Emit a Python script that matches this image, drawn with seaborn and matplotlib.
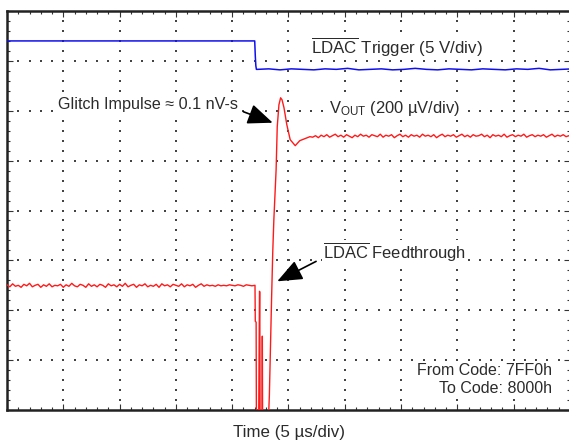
import numpy as np
import seaborn as sns
import matplotlib
matplotlib.use("Agg")
import matplotlib.pyplot as plt
from matplotlib.ticker import MultipleLocator

# screen units: x in divisions (5 us/div), y in divisions from bottom of the screen
blue_x = [0.0, 4.40, 4.41, 4.42, 4.43]
blue_y = [7.40, 7.40, 7.10, 6.90, 6.83]
blue_low_x = np.linspace(4.45, 10.05, 29)
blue_low_y = [6.83, 6.84, 6.82, 6.84, 6.83, 6.82, 6.84, 6.83, 6.85, 6.82,
              6.83, 6.84, 6.82, 6.83, 6.85, 6.83, 6.82, 6.84, 6.83, 6.82,
              6.84, 6.83, 6.82, 6.84, 6.83, 6.85, 6.82, 6.83, 6.84]

# red trace before the update (sampled every 0.05 div)
red_pre_x = np.linspace(0.0, 4.40, 89)
red_pre_y = [2.51, 2.47, 2.53, 2.48, 2.50, 2.46, 2.52, 2.49, 2.54, 2.47,
             2.50, 2.52, 2.46, 2.51, 2.48, 2.53, 2.47, 2.50, 2.49, 2.52,
             2.46, 2.51, 2.48, 2.54, 2.49, 2.47, 2.52, 2.50, 2.46, 2.53,
             2.48, 2.51, 2.47, 2.52, 2.50, 2.46, 2.53, 2.49, 2.51, 2.47,
             2.52, 2.48, 2.54, 2.47, 2.50, 2.52, 2.46, 2.51, 2.49, 2.53,
             2.47, 2.50, 2.48, 2.52, 2.46, 2.53, 2.49, 2.51, 2.47, 2.52,
             2.50, 2.48, 2.53, 2.47, 2.51, 2.49, 2.52, 2.46, 2.50, 2.53,
             2.48, 2.51, 2.49, 2.50, 2.48, 2.51, 2.49, 2.50, 2.49, 2.51,
             2.50, 2.49, 2.51, 2.50, 2.48, 2.51, 2.50, 2.49, 2.50]

# feedthrough + glitch around the LDAC edge
red_glitch_x = [4.405, 4.41, 4.425, 4.43, 4.47, 4.485, 4.49, 4.495,
                4.53, 4.535, 4.54, 4.64, 4.66, 4.68, 4.70, 4.72,
                4.74, 4.78, 4.79, 4.80, 4.83, 4.86, 4.885, 4.92, 4.97, 5.03,
                5.12, 5.20, 5.29, 5.38]
red_glitch_y = [2.50, 1.78, 1.76, -0.3, -0.3, 2.38, 2.36, -0.3,
                -0.3, 1.48, -0.3, -0.3, 0.29, 1.28, 2.26, 3.16,
                3.82, 4.82, 5.28, 5.68, 6.12, 6.26, 6.22, 6.06, 5.72, 5.42,
                5.30, 5.40, 5.44, 5.48]

# settled output after the update
red_post_x = np.linspace(5.43, 10.08, 94)
red_post_y = [5.47, 5.50, 5.46, 5.51, 5.48, 5.52, 5.47, 5.50, 5.53, 5.48,
              5.51, 5.47, 5.52, 5.49, 5.46, 5.51, 5.48, 5.53, 5.49, 5.51,
              5.47, 5.52, 5.50, 5.48, 5.53, 5.47, 5.51, 5.49, 5.52, 5.46,
              5.50, 5.53, 5.48, 5.51, 5.47, 5.52, 5.49, 5.51, 5.47, 5.53,
              5.49, 5.51, 5.48, 5.52, 5.46, 5.50, 5.53, 5.48, 5.51, 5.49,
              5.52, 5.47, 5.50, 5.53, 5.48, 5.51, 5.47, 5.52, 5.49, 5.50,
              5.53, 5.48, 5.51, 5.46, 5.52, 5.49, 5.51, 5.48, 5.53, 5.47,
              5.50, 5.52, 5.48, 5.51, 5.49, 5.53, 5.47, 5.50, 5.52, 5.48,
              5.51, 5.49, 5.52, 5.47, 5.50, 5.53, 5.48, 5.51, 5.49, 5.52,
              5.48, 5.50, 5.51, 5.49]

sns.set_style("white")
plt.rcParams['font.family'] = ['Liberation Sans', 'DejaVu Sans']
plt.rcParams['mathtext.default'] = 'regular'
txt = '#2b2b2b'

fig = plt.figure(figsize=(5.69, 4.41), dpi=100)
ax = fig.add_axes([7/569, 31/441, 563/569, 399/441])
ax.set_xlim(0, 10)
ax.set_ylim(0, 8)

# dotted scope graticule
for gx in range(1, 10):
    yy = np.arange(0.2, 8, 0.2)
    ax.scatter(np.full(len(yy), gx), yy, s=1.4, marker='s', c='#444444', linewidths=0, zorder=1)
for gy in range(1, 8):
    xx = np.arange(0.2, 10, 0.2)
    ax.scatter(xx, np.full(len(xx), gy), s=1.4, marker='s', c='#444444', linewidths=0, zorder=1)

# traces
bx = list(blue_x) + list(blue_low_x)
by = list(blue_y) + list(blue_low_y)
sns.lineplot(x=bx, y=by, estimator=None, sort=False, color='#1010ee', linewidth=1.1, ax=ax, zorder=3)
rx = list(red_pre_x) + red_glitch_x + list(red_post_x)
ry = red_pre_y + red_glitch_y + red_post_y
sns.lineplot(x=rx, y=ry, estimator=None, sort=False, color='#ff1a1a', linewidth=1.0, ax=ax, zorder=3)

ax.xaxis.set_major_locator(MultipleLocator(1))
ax.yaxis.set_major_locator(MultipleLocator(1))
ax.xaxis.set_minor_locator(MultipleLocator(0.2))
ax.yaxis.set_minor_locator(MultipleLocator(0.2))
ax.tick_params(which='both', direction='in', top=True, right=True, bottom=True, left=True,
               labelbottom=False, labelleft=False, color='#333333', width=0.8)
ax.tick_params(which='major', length=4)
ax.tick_params(which='minor', length=2.5)
for s in ax.spines.values():
    s.set_color('#222222')
    s.set_linewidth(1.8)
ax.set_xlabel('')
ax.set_ylabel('')

fs = 11.9
box = dict(facecolor='white', edgecolor='none', pad=1.0)
ax.text(5.40, 7.28, r'$\overline{LDAC}$ Trigger (5 V/div)', fontsize=12.2, color=txt, va='center', ha='left', bbox=box, zorder=4)
ax.text(0.90, 6.12, 'Glitch Impulse \u2248 0.1 nV-s', fontsize=11.6, color=txt, va='center', ha='left', bbox=box, zorder=4)
ax.text(5.72, 6.04, r'V$_{OUT}$ (200 µV/div)', fontsize=fs, color=txt, va='center', ha='left', bbox=box, zorder=4)
ax.text(5.61, 3.16, r'$\overline{LDAC}$ Feedthrough', fontsize=fs, color=txt, va='center', ha='left', bbox=box, zorder=4)
ax.text(9.68, 0.80, 'From Code: 7FF0h', fontsize=11.5, color=txt, va='center', ha='right', bbox=box, zorder=4)
ax.text(9.68, 0.44, 'To Code: 8000h', fontsize=11.5, color=txt, va='center', ha='right', bbox=box, zorder=4)

arrow = dict(arrowstyle='-|>,head_length=1.1,head_width=0.45', color='black', lw=1.2,
             mutation_scale=14, shrinkA=0, shrinkB=0)
ax.annotate('', xy=(4.72, 5.76), xytext=(4.20, 5.98), arrowprops=arrow, zorder=5)
ax.annotate('', xy=(4.80, 2.58), xytext=(5.49, 2.98), arrowprops=arrow, zorder=5)

fig.text(289/569, 1 - 433/441, 'Time (5 µs/div)', fontsize=12.2, color=txt, ha='center', va='center')

fig.savefig('out.png', dpi=100)
